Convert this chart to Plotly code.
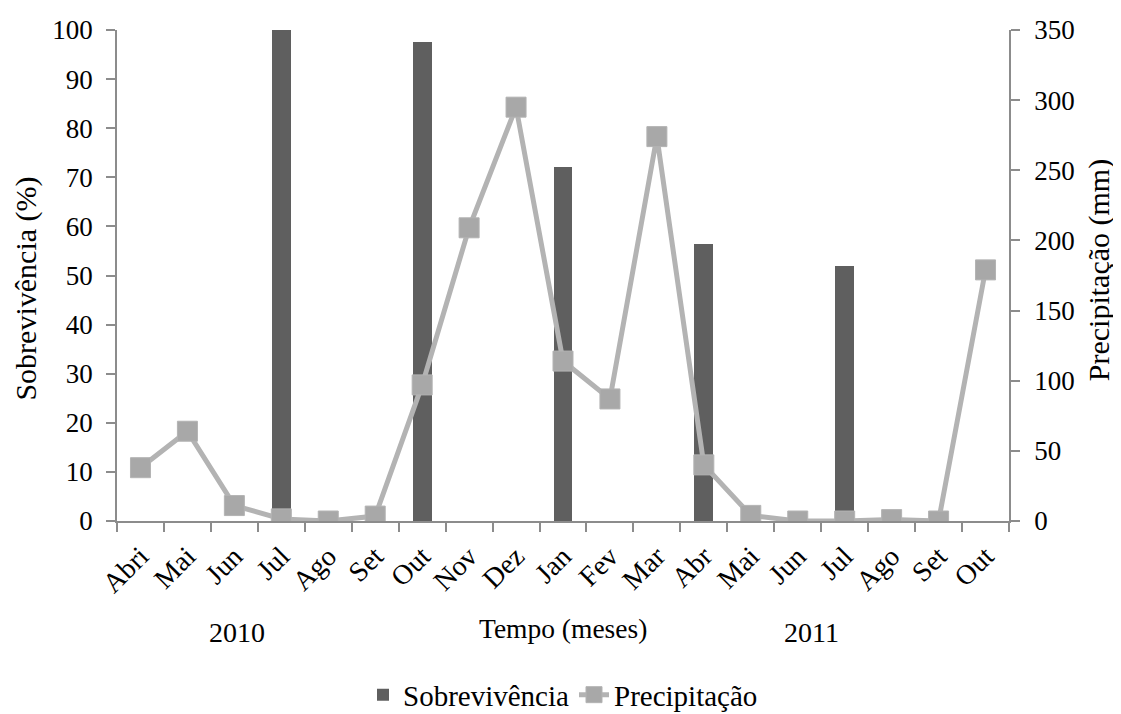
import plotly.graph_objects as go

months = ["Abri", "Mai", "Jun", "Jul", "Ago", "Set", "Out", "Nov", "Dez", "Jan",
          "Fev", "Mar", "Abr", "Mai", "Jun", "Jul", "Ago", "Set", "Out"]
sobrevivencia = [None, None, None, 100, None, None, 97.5, None, None, 72,
                 None, None, 56.5, None, None, 52, None, None, None]
precipitacao = [38, 64, 11, 1.5, 0, 3.5, 97, 209, 295, 114,
                87, 274, 40, 4, 0, 0, 1, 0, 179]
years = ["2010", "2011"]

x = list(range(len(months)))
FONT = "Liberation Serif, Times New Roman, serif"
AX = "#8c8c8c"


def f(size):
    return dict(family=FONT, size=size, color="black")


fig = go.Figure()
fig.add_trace(go.Bar(
    x=x, y=sobrevivencia, name="Sobrevivência",
    marker=dict(color="#5f5f5f", line=dict(width=0)), width=0.4, yaxis="y"))
fig.add_trace(go.Scatter(
    x=x, y=precipitacao, name="Precipitação", mode="lines+markers",
    line=dict(color="#b3b3b3", width=5),
    marker=dict(symbol="square", size=20, color="#a8a8a8",
                line=dict(color="#b3b3b3", width=1)),
    yaxis="y2"))

# page body has an 8px default margin; margins compensate for it
fig.update_layout(
    width=1121, height=714,
    margin=dict(l=109, r=120, t=22, b=201, autoexpand=False),
    paper_bgcolor="white", plot_bgcolor="white",
    font=f(27),
    showlegend=True,
    legend=dict(orientation="h", x=0.5, xanchor="center", y=-0.354, yanchor="middle",
                font=f(29), traceorder="normal"),
    bargap=0,
    xaxis=dict(range=[-0.5, 18.5], tickmode="array", tickvals=x, ticktext=months,
               tickangle=-45, ticks="", showline=True, linecolor=AX, linewidth=1.5,
               showgrid=False, zeroline=False, tickfont=f(28), automargin=False,
               ticklabelstandoff=6,
               minor=dict(tickmode="linear", tick0=-0.5, dtick=1, ticks="outside",
                          ticklen=9, tickcolor=AX, tickwidth=1.5, showgrid=False)),
    yaxis=dict(range=[0, 100], dtick=10, ticks="outside", ticklen=9, tickcolor=AX,
               tickwidth=1.5, showline=True, linecolor=AX, linewidth=1.5,
               showgrid=False, zeroline=False, ticklabelstandoff=8, automargin=False,
               tickfont=f(27)),
    yaxis2=dict(range=[0, 350], dtick=50, ticks="outside", ticklen=9, tickcolor=AX,
                tickwidth=1.5, showline=True, linecolor=AX, linewidth=1.5,
                showgrid=False, zeroline=False, overlaying="y", side="right",
                ticklabelstandoff=9, automargin=False, tickfont=f(27)),
    annotations=[
        dict(text="Sobrevivência (%)", textangle=-90, x=-0.1025, xref="paper",
             xanchor="center", y=0.4725, yref="paper", yanchor="middle",
             showarrow=False, font=f(30)),
        dict(text="Precipitação (mm)", textangle=-90, x=1.1005, xref="paper",
             xanchor="center", y=0.510, yref="paper", yanchor="middle",
             showarrow=False, font=f(30)),
        dict(text="Tempo (meses)", x=0.5, xref="paper", xanchor="center",
             y=-0.218, yref="paper", yanchor="middle",
             showarrow=False, font=f(27.5)),
        dict(text=years[0], x=2.05, xref="x", xanchor="center",
             y=-0.228, yref="paper", yanchor="middle",
             showarrow=False, font=f(28)),
        dict(text=years[1], x=14.3, xref="x", xanchor="center",
             y=-0.228, yref="paper", yanchor="middle",
             showarrow=False, font=f(28)),
    ],
)

fig.write_html("out.html")
